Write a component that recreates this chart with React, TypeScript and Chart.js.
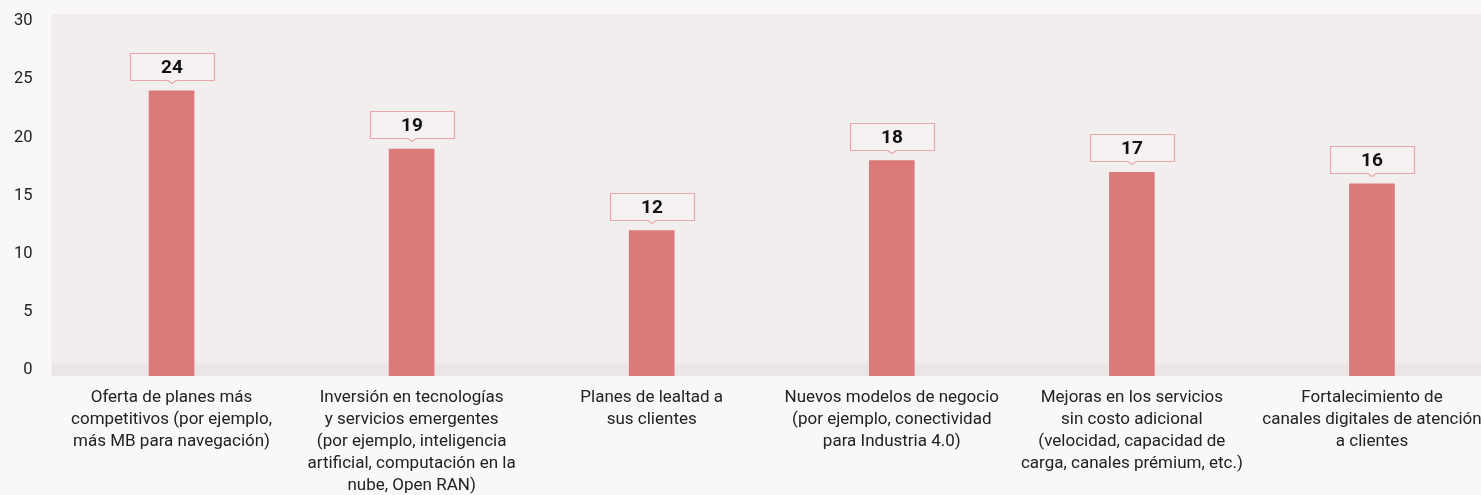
import React, { useEffect, useRef } from "react";
import { Chart, registerables } from "chart.js";

Chart.register(...registerables);

const categories: string[][] = [
  ["Oferta de planes más", "competitivos (por ejemplo,", "más MB para navegación)"],
  ["Inversión en tecnologías", "y servicios emergentes", "(por ejemplo, inteligencia", "artificial, computación en la", "nube, Open RAN)"],
  ["Planes de lealtad a", "sus clientes"],
  ["Nuevos modelos de negocio", "(por ejemplo, conectividad", "para Industria 4.0)"],
  ["Mejoras en los servicios", "sin costo adicional", "(velocidad, capacidad de", "carga, canales prémium, etc.)"],
  ["Fortalecimiento de", "canales digitales de atención", "a clientes"],
];
const values: number[] = [24, 19, 12, 18, 17, 16];
const yTicks: number[] = [0, 5, 10, 15, 20, 25, 30];

const PAGE_BG = "#f9f7f8";
const PLOT_BG = "#f2eeed";
const BAND_BG = "#ebe6e5";
const BAR_COLOR = "#db7a7b";
const BOX_BORDER = "#e9a7aa";
const FONT = "Roboto, 'Noto Sans', sans-serif";

const backgroundPlugin = {
  id: "bgPlugin",
  beforeDatasetsDraw(chart: any) {
    const { ctx, chartArea } = chart;
    const y = chart.scales.y;
    ctx.save();
    ctx.fillStyle = PLOT_BG;
    ctx.fillRect(chartArea.left, chartArea.top, chartArea.right - chartArea.left, chartArea.bottom - chartArea.top);
    const bandTop = y.getPixelForValue(0.6);
    ctx.fillStyle = BAND_BG;
    ctx.fillRect(chartArea.left, bandTop, chartArea.right - chartArea.left, chartArea.bottom - bandTop);
    ctx.restore();
  },
};

const labelBoxPlugin = {
  id: "labelBoxes",
  afterDatasetsDraw(chart: any) {
    const { ctx } = chart;
    const meta = chart.getDatasetMeta(0);
    const ds = chart.data.datasets[0];
    ctx.save();
    meta.data.forEach((bar: any, i: number) => {
      const w = 84;
      const h = 27;
      const cx = Math.round(bar.x);
      const bottom = Math.round(bar.y - 11) + 0.5;
      const left = cx - w / 2 + 0.5;
      const top = bottom - h;
      const n = 4;
      ctx.beginPath();
      ctx.moveTo(left, top);
      ctx.lineTo(left + w, top);
      ctx.lineTo(left + w, bottom);
      ctx.lineTo(cx + n, bottom);
      ctx.lineTo(cx, bottom + 3);
      ctx.lineTo(cx - n, bottom);
      ctx.lineTo(left, bottom);
      ctx.closePath();
      ctx.fillStyle = "#f4f1f0";
      ctx.fill();
      ctx.strokeStyle = BOX_BORDER;
      ctx.lineWidth = 1.2;
      ctx.stroke();
      ctx.fillStyle = "#111111";
      ctx.font = `bold 19px ${FONT}`;
      ctx.textAlign = "center";
      ctx.textBaseline = "middle";
      ctx.fillText(String(ds.data[i]), cx, top + h / 2 + 1);
    });
    ctx.restore();
  },
};

export default function App() {
  const canvasRef = useRef<HTMLCanvasElement | null>(null);

  useEffect(() => {
    if (!canvasRef.current) return;
    const chart = new Chart(canvasRef.current, {
      type: "bar",
      data: {
        labels: categories,
        datasets: [
          {
            data: values,
            backgroundColor: BAR_COLOR,
            barThickness: 45,
            base: -0.5,
          } as any,
        ],
      },
      options: {
        responsive: false,
        animation: false,
        devicePixelRatio: 1,
        layout: { padding: { top: 14, left: 0, right: 0, bottom: 0 } },
        plugins: {
          legend: { display: false },
          tooltip: { enabled: false },
          title: { display: false },
        },
        scales: {
          x: {
            grid: { display: false, drawTicks: false },
            border: { display: false },
            ticks: {
              autoSkip: false,
              maxRotation: 0,
              minRotation: 0,
              padding: 10.5,
              color: "#222222",
              font: { family: FONT, size: 17, lineHeight: 22 / 17 },
            },
            afterFit(scale: any) {
              scale.height = 119;
              scale.paddingLeft = 0;
              scale.paddingRight = 0;
            },
          },
          y: {
            min: -0.5,
            max: 30.6,
            grid: { display: false, drawTicks: false },
            border: { display: false },
            afterBuildTicks(scale: any) {
              scale.ticks = yTicks.map((v) => ({ value: v }));
            },
            afterFit(scale: any) {
              scale.width = 51.5;
              scale.paddingTop = 0;
              scale.paddingBottom = 0;
            },
            ticks: {
              padding: 19,
              color: "#222222",
              font: { family: FONT, size: 16.5 },
            },
          },
        },
      },
      plugins: [backgroundPlugin, labelBoxPlugin],
    });
    return () => chart.destroy();
  }, []);

  return (
    <div
      style={{
        position: "fixed",
        left: 0,
        top: 0,
        width: "100vw",
        height: "100vh",
        overflow: "hidden",
        background: PAGE_BG,
      }}
    >
      <canvas ref={canvasRef} width={1492} height={495} style={{ display: "block" }} />
    </div>
  );
}
